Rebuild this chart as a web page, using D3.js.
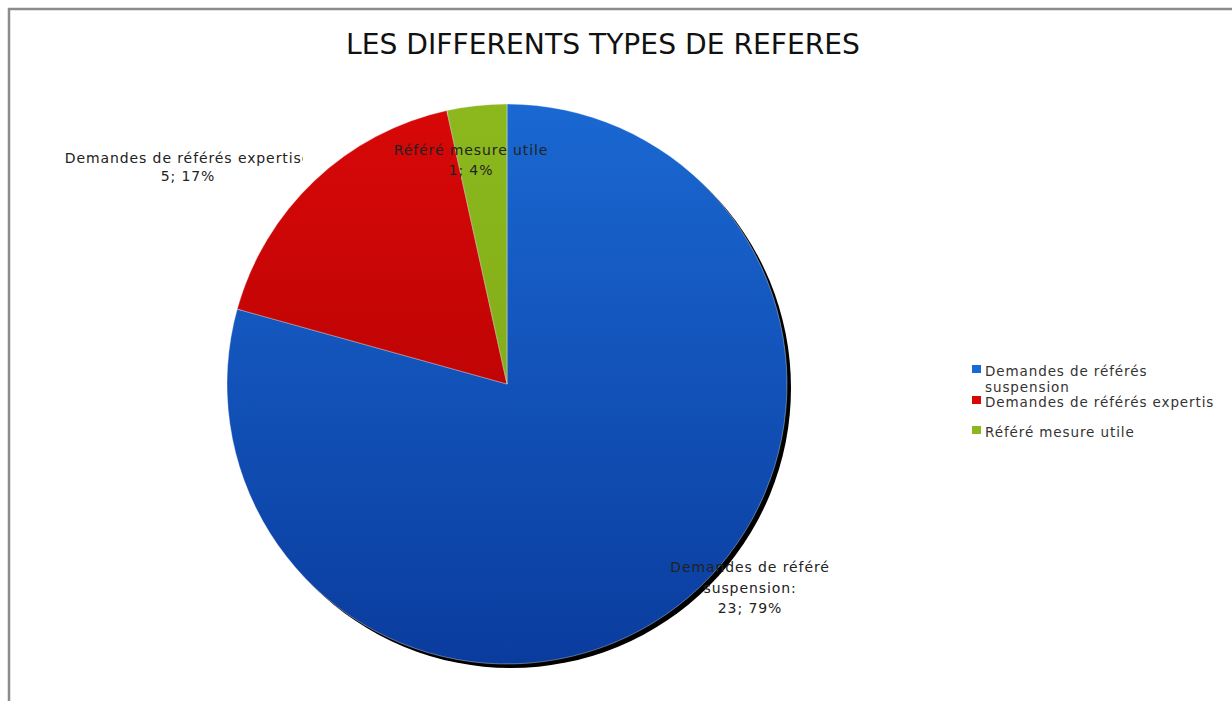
<!DOCTYPE html>
<html lang="fr">
<head>
<meta charset="UTF-8">
<title>Les différents types de référés</title>
<style>
    body { margin: 0; background: #fff; }
    svg { display: block; }
    .lbl { font-family: "DejaVu Sans", sans-serif; font-size: 14px; letter-spacing: 0.9px; fill: #222; }
    .leg { font-family: "DejaVu Sans", sans-serif; font-size: 13.5px; letter-spacing: 0.9px; fill: #333; }
</style>
</head>
<body>
<div id="chart"></div>
<script src="https://d3js.org/d3.v7.min.js"></script>
<script>

    var categories = ["Demandes de référés suspension", "Demandes de référés expertise", "Référé mesure utile"];
    var values = [23, 5, 1];
    var percents = [79, 17, 4];
    var sliceLabels = [
        ["Demandes de référé", "suspension:", "23; 79%"],
        ["Demandes de référés expertise", "5; 17%"],
        ["Référé mesure utile", "1; 4%"]
    ];
    var legendLabels = [["Demandes de référés", "suspension"], ["Demandes de référés expertise"], ["Référé mesure utile"]];

    var width = 1232,
        height = 701;

    var svg = d3.select("#chart").append("svg")
        .attr("width", width)
        .attr("height", height);

    var defs = svg.append("defs");

    var colors = [["#1a68d2", "#0a3c9e"], ["#d80808", "#a80000"], ["#8cb81e", "#7aa412"]];
    colors.forEach(function (c, i) {
        var g = defs.append("linearGradient")
            .attr("id", "grad" + i)
            .attr("gradientUnits", "userSpaceOnUse")
            .attr("x1", 0).attr("y1", 104).attr("x2", 0).attr("y2", 664);
        g.append("stop").attr("offset", "0%").attr("stop-color", c[0]);
        g.append("stop").attr("offset", "100%").attr("stop-color", c[1]);
    });

    defs.append("clipPath").attr("id", "clipExp")
        .append("rect").attr("x", 0).attr("y", 130).attr("width", 303).attr("height", 70);
    defs.append("clipPath").attr("id", "clipLeg")
        .append("rect").attr("x", 960).attr("y", 340).attr("width", 254).attr("height", 120);

    // frame
    svg.append("line").attr("x1", 8).attr("x2", width).attr("y1", 9).attr("y2", 9)
        .attr("stroke", "#8c8c8c").attr("stroke-width", 2.5);
    svg.append("line").attr("x1", 9).attr("x2", 9).attr("y1", 8).attr("y2", height)
        .attr("stroke", "#8c8c8c").attr("stroke-width", 2.5);

    // title
    svg.append("text")
        .attr("x", 603)
        .attr("y", 54)
        .attr("text-anchor", "middle")
        .attr("font-family", "'DejaVu Sans', sans-serif")
        .attr("font-size", "28px")
        .attr("fill", "#111")
        .attr("textLength", 514)
        .attr("lengthAdjust", "spacingAndGlyphs")
        .text("LES DIFFERENTS TYPES DE REFERES");

    // pie
    var cx = 507, cy = 384, r = 280;

    var pie = d3.pie().sort(null).value(function (d) { return d; });
    var arc = d3.arc().innerRadius(0).outerRadius(r);
    var arcs = pie(values);

    var gPie = svg.append("g").attr("transform", "translate(" + cx + "," + cy + ")");

    // shadow
    gPie.append("circle")
        .attr("cx", 4).attr("cy", 4).attr("r", r)
        .attr("fill", "#000");

    gPie.selectAll("path")
        .data(arcs)
        .enter().append("path")
        .attr("d", arc)
        .attr("transform", "translate(" + (-cx) + "," + (-cy) + ") translate(" + cx + "," + cy + ")")
        .attr("fill", function (d, i) { return "url(#grad" + i + ")"; })
        .attr("stroke", "rgba(255,255,255,0.45)")
        .attr("stroke-width", 0.8);

    // gradient is in page coords, so shift it onto the pie group
    defs.selectAll("linearGradient")
        .attr("y1", 104 - cy).attr("y2", 664 - cy);

    // slice labels
    var labelPos = [[750, 572], [188, 163], [471, 155]];
    var lineStep = [20.5, 18, 20];
    sliceLabels.forEach(function (lines, i) {
        var t = svg.append("text")
            .attr("class", "lbl")
            .attr("text-anchor", "middle");
        if (i === 1) t.attr("clip-path", "url(#clipExp)");
        lines.forEach(function (s, j) {
            t.append("tspan")
                .attr("x", labelPos[i][0])
                .attr("y", labelPos[i][1] + j * lineStep[i])
                .text(s);
        });
    });

    // legend
    var legY = [376, 407, 437];
    var leg = svg.append("g").attr("clip-path", "url(#clipLeg)");
    legendLabels.forEach(function (lines, i) {
        leg.append("rect")
            .attr("x", 972).attr("y", legY[i] - 11)
            .attr("width", 9).attr("height", 8)
            .attr("fill", colors[i][0]);
        var t = leg.append("text").attr("class", "leg");
        lines.forEach(function (s, j) {
            t.append("tspan").attr("x", 985).attr("y", legY[i] + j * 16).text(s);
        });
    });

</script>
</body>
</html>
